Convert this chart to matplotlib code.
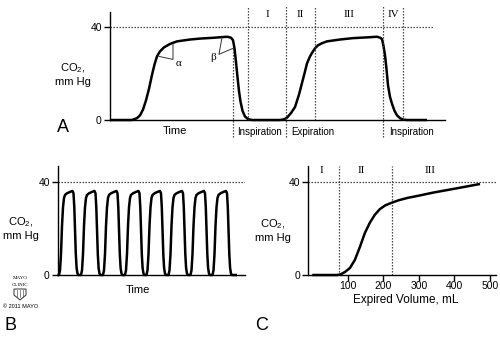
import matplotlib
matplotlib.use("Agg")
import matplotlib.pyplot as plt
from matplotlib.patches import Polygon

plt.rcParams['font.family'] = ['Liberation Sans', 'DejaVu Sans']
plt.rcParams['mathtext.fontset'] = 'custom'
plt.rcParams['mathtext.rm'] = 'Liberation Sans'
plt.rcParams['mathtext.it'] = 'Liberation Sans:italic'

# --- Panel A: single capnogram (time in arbitrary units, CO2 in mm Hg) ---
t_a = [0.5, 22.5, 27.5, 30.5, 33.5, 36.5, 39.5, 42.5, 45, 47.5, 50.5, 54.5, 60.5,
       67.5, 80.5, 90.5, 105.5, 117.5, 121.5, 123.5, 125, 126.5, 128, 129.5, 131,
       133, 135.5, 138.5, 142.5, 170.5, 174.5, 177.5, 181.5, 185.5, 189.5, 192.5,
       195.5, 197.5, 200.5, 202.5, 205.5, 208.5, 212.5, 217.5, 230.5, 243.5, 260.5,
       267.5, 270.5, 272.5, 274, 275.5, 277, 278.5, 280.5, 282.5, 285, 287.5, 290.5,
       293.5, 297.5, 317.5]
co2_a = [0, 0, 0.8, 2, 4.5, 8.5, 13.5, 19.5, 24, 27.5, 29.7, 31.4, 32.9,
         34, 34.8, 35.2, 35.6, 36, 35.6, 34.5, 31, 25, 18.5, 12.5, 8,
         4, 1.5, 0.4, 0, 0, 0.3, 1, 3, 5.6, 11, 16,
         21, 24.5, 27.5, 29, 31, 32.3, 33.2, 34, 34.8, 35.4, 35.8,
         36, 35.6, 35, 32, 28, 22, 15, 10, 7, 4, 2, 0.8,
         0.2, 0, 0]
# phase boundaries (same time units)
bounds_a = [123.5, 138.5, 176.5, 205.5, 273.5, 293.5]
phase_names_a = ['I', 'II', 'III', 'IV']
phase_pos_a = [157.5, 191, 239.5, 283.5]
breath_names = ['Inspiration', 'Expiration', 'Inspiration']
breath_pos = [127.5, 181.5, 279.5]

# --- Panel B: trend of repeated breaths ---
breath_onsets_b = [1.5, 23.5, 45.5, 67.5, 89, 111, 133, 155]
cycle_t = [0, 1, 2, 3, 4, 5, 6, 8, 11, 13.5, 14.5, 15.3, 16, 16.8, 17.6, 18.5, 19.5]
cycle_co2 = [0, 2, 9, 21, 29, 33, 34.3, 35, 35.6, 36, 35, 29, 19, 9, 3, 0.6, 0]
b_end = 179.5

# --- Panel C: volumetric capnogram ---
vol_c = [0, 70, 80, 92, 106, 120, 134, 148, 162, 176, 190, 205, 224, 245, 270, 300,
         340, 416, 472]
co2_c = [0, 0, 0.3, 1.3, 3, 6.5, 12, 18, 22.4, 25.8, 28.2, 29.8, 31, 32.1, 33.1, 34,
         35.3, 37.4, 39]
bounds_c = [75, 224]
phase_names_c = ['I', 'II', 'III']
phase_pos_c = [27, 139, 331]
vol_ticks = [100, 200, 300, 400, 500]

W, H = 500, 338
fig = plt.figure(figsize=(5, 3.38), dpi=100)


def rect(left, right, top, bottom):
    return [left / W, 1 - bottom / H, (right - left) / W, (bottom - top) / H]


def fxy(x, y):
    return x / W, 1 - y / H


dot = dict(color='#333333', lw=0.9, ls=(0, (1.1, 1.3)))
curve = dict(color='black', lw=1.8, solid_capstyle='butt')


def base_axes(r, xmax, xmin=0):
    ax = fig.add_axes(r)
    ax.set_xlim(xmin, xmax)
    ax.set_ylim(0, 46.7)
    for s in ['top', 'right']:
        ax.spines[s].set_visible(False)
    for s in ['left', 'bottom']:
        ax.spines[s].set_linewidth(1.0)
    ax.set_yticks([0, 40])
    ax.tick_params(axis='y', length=4, width=1.0, labelsize=7.5, pad=1.5)
    ax.set_xticks([])
    ax.patch.set_visible(False)
    return ax


# Panel A
axA = base_axes(rect(109.5, 445, 12, 120), 335.5)
axA.plot([0.5, 323.5], [40, 40], **dot, clip_on=False)
axA.plot(t_a, co2_a, **curve, clip_on=False)
tops = {0: 31}
for i, b in enumerate(bounds_a):
    top = tops.get(i, 49.5)
    bottom = -7.5 if i in (0, 2, 4) else 0
    axA.plot([b, b], [bottom, top], **dot, clip_on=False)
for name, p in zip(phase_names_a, phase_pos_a):
    axA.text(p, 45.5, name, ha='center', va='center', fontsize=8,
             family=['Liberation Serif'])
for name, p in zip(breath_names, breath_pos):
    axA.text(p, -5.3, name, ha='left', va='center', fontsize=7)
# alpha and beta angles
axA.plot([49.5, 63.5, 63.5], [27.5, 26.2, 32.7], color='#333333', lw=0.7)
axA.plot([112.5, 109.5, 123.5], [35.7, 28.4, 31], color='#333333', lw=0.7)
axA.text(69.5, 24.6, 'α', ha='center', va='center', fontsize=8, family=['Liberation Serif'])
axA.text(103.5, 27.0, 'β', ha='center', va='center', fontsize=8, family=['Liberation Serif'])

fig.text(*fxy(175, 131), 'Time', ha='center', va='center', fontsize=8)
fig.text(*fxy(73, 74.5), 'CO$_2$,\nmm Hg', ha='center', va='center', fontsize=8,
         linespacing=1.25)
fig.text(*fxy(63, 128), 'A', ha='center', va='center', fontsize=13)

# Panel B
axB = base_axes(rect(57.5, 245, 166, 275), 187.5)
axB.axhline(40, **dot)
tb = [0]
cb = [0]
for on in breath_onsets_b:
    tb += [on + c for c in cycle_t]
    cb += cycle_co2
tb.append(b_end)
cb.append(0)
axB.plot(tb, cb, **curve, clip_on=False)
fig.text(*fxy(138, 290), 'Time', ha='center', va='center', fontsize=8)
fig.text(*fxy(21, 228), 'CO$_2$,\nmm Hg', ha='center', va='center', fontsize=8,
         linespacing=1.25)
fig.text(*fxy(11, 325), 'B', ha='center', va='center', fontsize=13)

# small Mayo Clinic mark
fig.text(*fxy(20, 278), 'MAYO', ha='center', va='center', fontsize=3.6,
         family=['Liberation Serif'])
fig.text(*fxy(20, 284.5), 'CLINIC', ha='center', va='center', fontsize=3.6,
         family=['Liberation Serif'])
shield = [(14, 289), (26, 289), (26, 295), (20, 300), (14, 295)]
fig.patches.append(Polygon([fxy(x, y) for x, y in shield], closed=True, fill=False,
                           lw=0.7, ec='#333333', transform=fig.transFigure))
for x0 in (17, 20, 23):
    fig.lines.append(plt.Line2D([x0 / W, x0 / W], [1 - 290 / H, 1 - 297 / H],
                                lw=0.5, color='#555555', transform=fig.transFigure))
fig.text(*fxy(21, 306), '© 2011 MAYO', ha='center', va='center', fontsize=4)

# Panel C
axC = base_axes(rect(308, 496, 166, 275), 517, xmin=-12)
axC.axhline(40, **dot)
for b in bounds_c:
    axC.plot([b, b], [0, 46.7], **dot)
axC.plot(vol_c, co2_c, **curve, clip_on=False)
for name, p in zip(phase_names_c, phase_pos_c):
    axC.text(p, 44.7, name, ha='center', va='center', fontsize=8,
             family=['Liberation Serif'])
axC.set_xticks(vol_ticks)
axC.tick_params(axis='x', length=4, width=1.0, labelsize=7.5, pad=0.5)
fig.text(*fxy(406, 300), 'Expired Volume, mL', ha='center', va='center', fontsize=8.5)
fig.text(*fxy(273, 230), 'CO$_2$,\nmm Hg', ha='center', va='center', fontsize=8,
         linespacing=1.25)
fig.text(*fxy(262, 325), 'C', ha='center', va='center', fontsize=13)

fig.savefig('out.png', dpi=100)
